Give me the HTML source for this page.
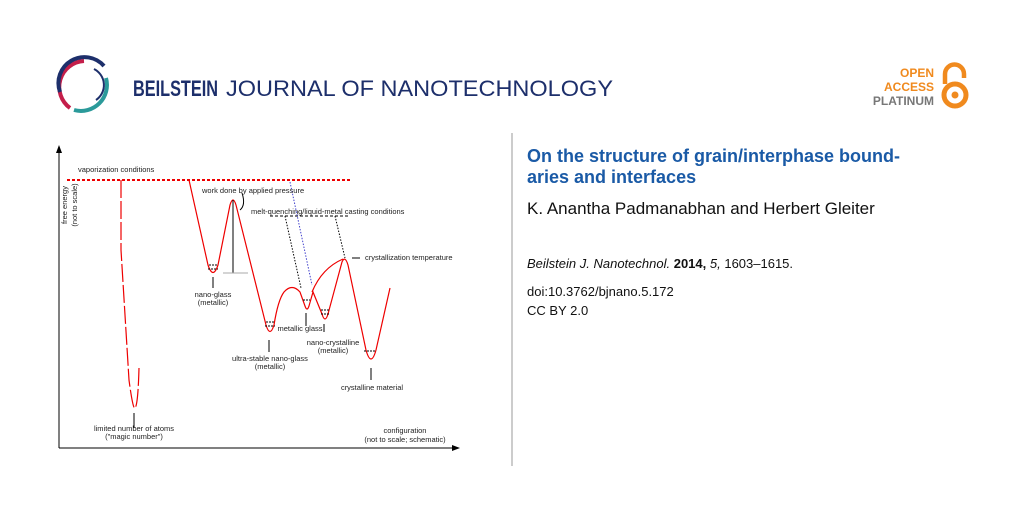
<!DOCTYPE html>
<html><head><meta charset="utf-8"><style>
body{margin:0;width:1024px;height:512px;background:#fff;overflow:hidden;position:relative;font-family:"Liberation Sans",sans-serif}
.t{position:absolute;white-space:nowrap}
</style></head><body>
<svg width="1024" height="512" style="position:absolute;left:0;top:0">
<!-- logo -->
<path d="M84 61 A26 26 0 0 0 70 108" fill="none" stroke="#c41e4a" stroke-width="4"/>
<path d="M60 92 A26 26 0 0 1 104 66" fill="none" stroke="#1d2f6b" stroke-width="4"/>
<path d="M74 110 A26 26 0 0 0 106 78" fill="none" stroke="#2b9a9a" stroke-width="4"/>
<path d="M94 69 A18 18 0 0 1 96 100" fill="none" stroke="#1d2f6b" stroke-width="2"/>
<text x="133" y="96" font-family="Liberation Sans" font-size="22" fill="#1d2f6b" font-weight="bold" textLength="85" lengthAdjust="spacingAndGlyphs">BEILSTEIN</text>
<text x="226" y="96" font-family="Liberation Sans" font-size="22" fill="#1d2f6b" textLength="387" lengthAdjust="spacingAndGlyphs">JOURNAL OF NANOTECHNOLOGY</text>
<!-- OA -->
<text x="934" y="77" text-anchor="end" font-size="12" font-weight="bold" fill="#f08a1e">OPEN</text>
<text x="934" y="91" text-anchor="end" font-size="12" font-weight="bold" fill="#f08a1e">ACCESS</text>
<text x="934" y="105" text-anchor="end" font-size="12" font-weight="bold" fill="#777">PLATINUM</text>
<path d="M945 84 V74 A9.5 9.5 0 0 1 964 74 V78" fill="none" stroke="#f08a1e" stroke-width="4.5"/>
<circle cx="955" cy="95" r="11" fill="none" stroke="#f08a1e" stroke-width="5"/>
<circle cx="955" cy="95" r="3.5" fill="#f08a1e"/>
<line x1="512" y1="133" x2="512" y2="466" stroke="#999" stroke-width="1"/>
<!-- chart axes -->
<g stroke="#000" stroke-width="1" fill="none">
<line x1="59" y1="150" x2="59" y2="448"/><line x1="59" y1="448" x2="455" y2="448"/>
</g>
<path d="M59 145 L56 153 L62 153Z M460 448 L452 445 L452 451Z"/>
<line x1="67" y1="180" x2="350" y2="180" stroke="#e00" stroke-width="2" stroke-dasharray="3,2"/>
<g fill="none" stroke="#e00" stroke-width="1.2">
<path d="M121 180 L121 250 L129 380 Q133 410 135 408 Q138 405 139 368" stroke-dasharray="18,3"/>
<path d="M189 180 L208 265 Q213 280 218 265 L230 205 Q233 195 236 205 L266 325 Q270 338 274 325 Q278 300 284 292 Q292 283 300 292 L305 306 Q307 312 309 306 L313 292 L322 314 Q325 324 328 314 L342 262 Q345 255 348 265 L366 350 Q371 368 376 350 L390 288"/>
<path d="M312 292 Q322 268 343 259"/>
</g>
<g stroke="#000" stroke-width="1" fill="none">
<line x1="233" y1="200" x2="233" y2="273"/><line x1="223" y1="273" x2="248" y2="273" stroke="#aaa"/>
<path d="M242 193 Q246 205 240 210"/>
<line x1="270" y1="216" x2="348" y2="216" stroke-dasharray="3,2"/>
<path d="M285 216 L301 288 M335 216 L345 258" stroke-dasharray="1.5,1.5"/>
<line x1="290" y1="182" x2="312" y2="285" stroke="#44c" stroke-dasharray="1.5,1.5"/>
<line x1="134" y1="428" x2="134" y2="413"/><line x1="213" y1="288" x2="213" y2="277"/><line x1="269" y1="352" x2="269" y2="340"/><line x1="306" y1="326" x2="306" y2="313"/><line x1="324" y1="332" x2="324" y2="324"/><line x1="371" y1="380" x2="371" y2="368"/><line x1="360" y1="258" x2="352" y2="258"/>
<path d="M209 265h8M208 269h10M266 322h8M265 326h10M303 300h7M321 310h8M321 314h8M364 351h12" stroke-dasharray="2,1"/>
</g>
<g font-family="Liberation Sans" font-size="7.5" fill="#222">
<text x="78" y="172">vaporization conditions</text>
<text x="202" y="193">work done by applied pressure</text>
<text x="251" y="214">melt-quenching/liquid-metal casting conditions</text>
<text x="365" y="260">crystallization temperature</text>
<text x="213" y="297" text-anchor="middle">nano-glass</text><text x="213" y="305" text-anchor="middle">(metallic)</text>
<text x="270" y="361" text-anchor="middle">ultra-stable nano-glass</text><text x="270" y="369" text-anchor="middle">(metallic)</text>
<text x="300" y="331" text-anchor="middle">metallic glass</text>
<text x="333" y="345" text-anchor="middle">nano-crystalline</text><text x="333" y="353" text-anchor="middle">(metallic)</text>
<text x="372" y="390" text-anchor="middle">crystalline material</text>
<text x="134" y="431" text-anchor="middle">limited number of atoms</text><text x="134" y="439" text-anchor="middle">("magic number")</text>
<text x="405" y="433" text-anchor="middle">configuration</text><text x="405" y="442" text-anchor="middle">(not to scale; schematic)</text>
<text transform="translate(67,205) rotate(-90)" text-anchor="middle">free energy</text>
<text transform="translate(77,205) rotate(-90)" text-anchor="middle">(not to scale)</text>
</g>
</svg>
<div class="t" style="left:527px;top:146px;font-size:18px;font-weight:bold;color:#1a5aa6;line-height:21px">On the structure of grain/interphase bound-<br>aries and interfaces</div>
<div class="t" style="left:527px;top:199px;font-size:17px;color:#111">K. Anantha Padmanabhan and Herbert Gleiter</div>
<div class="t" style="left:527px;top:256px;font-size:13px;color:#111"><i>Beilstein J. Nanotechnol.</i> <b>2014,</b> <i>5,</i> 1603–1615.</div>
<div class="t" style="left:527px;top:284px;font-size:13px;color:#111">doi:10.3762/bjnano.5.172</div>
<div class="t" style="left:527px;top:303px;font-size:13px;color:#111">CC BY 2.0</div>
</body></html>
